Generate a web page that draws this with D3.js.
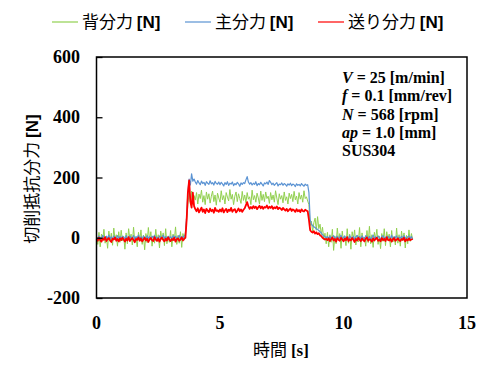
<!DOCTYPE html>
<html>
<head>
<meta charset="utf-8">
<script src="https://cdn.jsdelivr.net/npm/d3@7"></script>
<style>
  body { margin: 0; background: #fff; }
  svg { display: block; }
</style>
</head>
<body>
<svg class="svg-force"></svg>
<script>
// sample spacing of the recorded signals [s]
const dt = 0.05

// 背分力 (thrust force) [N]
const thrustForce = [
  8, -22, 18, -30, 12, -8, 28, -18, 4, -35, 22, -12, 15, -25, 32, -6, 10, -28, 20, -15,
  25, -10, 6, -38, 16, -20, 30, -5, 12, -24, 35, -14, 2, -30, 18, -10, 26, -22, 8, -40,
  14, -16, 34, -8, 20, -28, 6, -18, 28, -12, 10, -34, 22, -6, 16, -26, 30, -20, 4, -15,
  24, -30, 12, -10, 36, -22, 8, -18, 20, -32, 14, -8,
  20, 60, 110, 150, 120, 155, 110, 140,
  125, 150, 112, 145, 130, 158, 118, 140, 110, 152, 128, 146, 115, 138, 155, 120, 142, 108, 148, 132,
  118, 156, 126, 140, 112, 150, 135, 122, 160, 128, 144, 110, 138, 152, 120, 146, 130, 114, 154, 124,
  142, 116, 150, 128, 136, 110, 158, 126, 140, 118, 148, 132, 112, 155, 124, 144, 120, 152, 130, 138,
  114, 150, 126, 142, 118, 156, 132, 110, 146, 128, 140, 116, 152, 124, 136, 112, 148, 130, 144, 120,
  154, 126, 138, 112, 150, 128, 142, 118, 156, 130, 136, 122,
  110, 40, 55, 20, 50, 65, 25, 70, 30, 45, 10, 35, -5, 15, -20,
  18, -30, 10, -15, 28, -42, 6, -20, 32, -8, 14, -35, 22, -12, 4, -26, 30, -18, 12, -38,
  20, -6, 26, -24, 8, -14, 34, -30, 16, -10, 2, -28, 24, -16, 38, -20, 10, -32, 18, -4,
  28, -22, 6, -36, 14, -12, 30, -26, 20, -8, 12, -30, 24, -14, 4, -24, 32, -18, 10, -28,
  22, -10, 16, -34, 8, -20, 26, -12, 14, -6
]

// 主分力 (principal force) [N]
const principalForce = [
  2, -5, 6, 0, -4, 8, 1, -6, 5, -2, 9, -3, 3, -7, 6, 0, -4, 7, -1, 4,
  -6, 5, 1, -3, 8, -5, 2, 6, -2, 0, 7, -6, 4, -1, 9, -4, 3, -5, 6, 1,
  -3, 7, -2, 4, -6, 5, 0, 8, -4, 2, -5, 6, 1, -3, 9, -2, 4, -7, 5, 0,
  3, -4, 7, -1, 5, -5, 2, 8, -3, 4, 0, 6,
  10, 70, 150, 195, 175, 212, 188, 195,
  185, 178, 190, 182, 176, 188, 180, 184, 174, 186, 181, 177, 189, 179, 183, 175, 187, 180, 178, 185,
  176, 184, 179, 172, 183, 177, 186, 174, 181, 178, 185, 173, 180, 176, 184, 179, 171, 182, 177, 183,
  180, 192, 203, 185, 178, 183, 175, 181, 177, 186, 173, 180, 176, 184, 178, 172, 182, 179, 185, 177,
  190, 184, 176, 181, 174, 179, 183, 172, 178, 176, 182, 174, 180, 177, 171, 179, 175, 181, 173, 178,
  176, 170, 179, 174, 177, 172, 180, 175, 171, 178, 174, 176,
  150, 60, 45, 40, 36, 34, 30, 28, 24, 20, 16, 10, 6, 3, 0,
  4, -3, 6, -5, 2, 7, -2, 0, 5, -6, 3, 8, -4, 1, 6, -3, 2, -5, 7, 0,
  -2, 5, -6, 3, 8, -1, 4, -4, 6, 0, -5, 7, 2, -3, 5, -6, 1, 9, -2, 3,
  -4, 6, 0, -5, 4, 7, -3, 2, -6, 5, 1, -2, 8, -4, 3, 0, 6, -5, 2, -1,
  5, -3, 7, 0, -4, 3, 6, -2, 4, -5
]

// 送り分力 (feed force) [N]
const feedForce = [
  -4, -10, 0, -8, -13, -2, -7, 2, -11, -5, -1, -9, -14, -3, -6, 1, -10, -4, -12, -2,
  -8, 0, -6, -13, -3, -9, 2, -11, -5, -1, -8, -15, -4, -7, 1, -10, -2, -12, -6, 0,
  -9, -3, -14, -5, -1, -8, -11, 2, -6, -10, -2, -13, -4, 0, -7, -12, -3, -9, 1, -6,
  -11, -4, -8, 0, -13, -5, -2, -10, -6, 1, -9, -3,
  0, 60, 150, 190, 120, 100, 150, 105,
  95, 88, 98, 84, 92, 100, 86, 94, 82, 96, 90, 85, 97, 88, 93, 83, 99, 89, 91, 86,
  94, 87, 98, 84, 91, 96, 85, 93, 89, 99, 86, 92, 95, 84, 90, 97, 88, 94, 86, 93,
  98, 108, 118, 104, 96, 102, 97, 105, 99, 103, 95, 101, 106, 98, 104, 96, 102, 100, 107, 97,
  103, 99, 105, 96, 101, 98, 104, 95, 100, 97, 92, 99, 94, 90, 96, 88, 93, 97, 89, 94,
  91, 86, 95, 88, 92, 85, 94, 89, 87, 93, 90, 88,
  60, 25, 20, 17, 22, 14, 18, 12, 15, 8, 6, 0, -3, -6, -4,
  -8, -2, -11, -5, 1, -9, -4, -13, -1, -7, -10, 0, -6, -12, -3, -8, 2, -11, -5, -9,
  -1, -7, -14, -4, -9, 0, -6, -11, -2, -8, -12, -3, 1, -10, -5, -7, -13, -2, -9, -4,
  0, -10, -6, -12, -1, -8, -4, -11, 2, -7, -9, -3, -13, -5, -1, -10, -6, -2, -8, -11,
  -4, -7, 0, -12, -5, -9, -2, -8, -6, -4
]

const seriesNames = ["背分力", "主分力", "送り分力"]
const seriesColors = ["#92d050", "#5b93d3", "#ff0000"]
const xTicks = [0, 5, 10, 15]
const yTicks = [-200, 0, 200, 400, 600]
const conditions = [
  { v: "V", rest: " = 25 [m/min]" },
  { v: "f", rest: " = 0.1 [mm/rev]" },
  { v: "N", rest: " = 568 [rpm]" },
  { v: "ap", rest: " = 1.0 [mm]" },
  { v: "", rest: "SUS304" }
]

var width = 491
var height = 378
var plot = { left: 96.5, right: 467, top: 57, bottom: 298 }

var svg = d3.select('.svg-force')
  .attr('width', width)
  .attr('height', height)

var x_scale = d3.scaleLinear()
  .domain([0, 15])
  .range([plot.left, plot.right])

var y_scale = d3.scaleLinear()
  .domain([-200, 600])
  .range([plot.bottom, plot.top])

var serif = "'Liberation Serif', 'Times New Roman', serif"
var sans = "'Liberation Sans', Arial, sans-serif"
var jp = "'Noto Sans CJK JP', sans-serif"

// data lines (drawn first so the frame sits on top)
var line = d3.line()
  .x((d, idx) => x_scale(idx * dt))
  .y(d => y_scale(d))

var allSeries = [thrustForce, principalForce, feedForce]
var widths = [1, 1.2, 1.8]
allSeries.forEach((s, i) => {
  svg.append('path')
    .attr('d', line(s))
    .attr('fill', 'none')
    .attr('stroke', seriesColors[i])
    .attr('stroke-width', widths[i])
    .attr('stroke-linejoin', 'round')
})

// frame
svg.append('rect')
  .attr('x', plot.left)
  .attr('y', plot.top)
  .attr('width', plot.right - plot.left)
  .attr('height', plot.bottom - plot.top)
  .attr('fill', 'none')
  .attr('stroke', '#000')
  .attr('stroke-width', 1.5)

// y axis: ticks point into the plot
var y_axis = d3.axisRight()
  .scale(y_scale)
  .tickValues(yTicks)
  .tickSize(6)
  .tickFormat('')
svg.append('g')
  .attr('transform', `translate(${plot.left}, 0)`)
  .call(y_axis)
  .call(g => g.select('.domain').remove())
  .call(g => g.selectAll('line').attr('stroke-width', 1.3))

svg.append('g')
  .selectAll('text')
  .data(yTicks)
  .enter()
  .append('text')
  .attr('x', 80)
  .attr('y', d => y_scale(d) + 6)
  .attr('text-anchor', 'end')
  .style('font-family', serif)
  .style('font-weight', 'bold')
  .style('font-size', '18px')
  .text(d => d < 0 ? '-' + Math.abs(d) : d)

// x tick labels
svg.append('g')
  .selectAll('text')
  .data(xTicks)
  .enter()
  .append('text')
  .attr('x', d => x_scale(d))
  .attr('y', 329)
  .attr('text-anchor', 'middle')
  .style('font-family', serif)
  .style('font-weight', 'bold')
  .style('font-size', '18px')
  .text(d => d)

// axis titles
var xt = svg.append('text')
  .attr('x', 281)
  .attr('y', 356)
  .attr('text-anchor', 'middle')
  .style('font-size', '17px')
xt.append('tspan').style('font-family', jp).text('時間 ')
xt.append('tspan').style('font-family', serif).style('font-weight', 'bold').text('[s]')

var yt = svg.append('text')
  .attr('transform', 'translate(38, 179) rotate(-90)')
  .attr('text-anchor', 'middle')
  .style('font-size', '17px')
yt.append('tspan').style('font-family', jp).text('切削抵抗分力 ')
yt.append('tspan').style('font-family', sans).style('font-weight', 'bold').text('[N]')

// legend
var legendX = [52, 185, 318]
seriesNames.forEach((name, i) => {
  svg.append('line')
    .attr('x1', legendX[i])
    .attr('x2', legendX[i] + 26)
    .attr('y1', 22)
    .attr('y2', 22)
    .attr('stroke', seriesColors[i])
    .attr('stroke-width', 1.2)
  var t = svg.append('text')
    .attr('x', legendX[i] + 30)
    .attr('y', 28)
    .style('font-size', '17px')
  t.append('tspan').style('font-family', jp).text(name + ' ')
  t.append('tspan').style('font-family', sans).style('font-weight', 'bold').text('[N]')
})

// cutting conditions
var cond = svg.append('g')
conditions.forEach((c, i) => {
  var t = cond.append('text')
    .attr('x', 342)
    .attr('y', 83 + i * 18.3)
    .style('font-family', serif)
    .style('font-weight', 'bold')
    .style('font-size', '16px')
  if (c.v) t.append('tspan').style('font-style', 'italic').text(c.v)
  t.append('tspan').text(c.rest)
})
</script>
</body>
</html>
